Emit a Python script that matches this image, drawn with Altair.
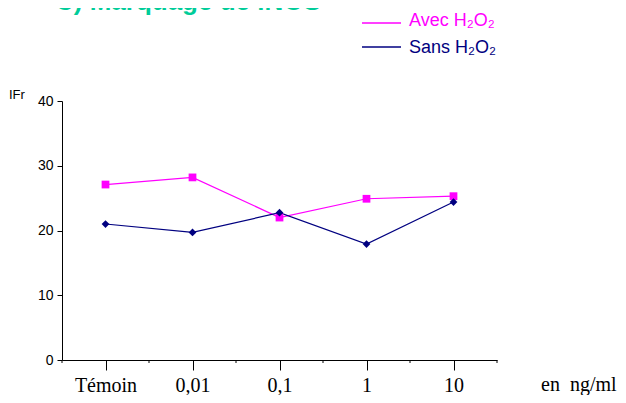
import json
import altair as alt
import pandas as pd

# ---- data ----
categories = ["Témoin", "0,01", "0,1", "1", "10"]
avec_h2o2 = [27.1, 28.2, 22.0, 24.9, 25.3]
sans_h2o2 = [21.0, 19.7, 22.75, 17.9, 24.4]
y_ticks = [0, 10, 20, 30, 40]
series_names = ["Avec H₂O₂", "Sans H₂O₂"]
series_colors = ["#FF00FF", "#000080"]
series_shapes = ["square", "diamond"]
title_text = "C) Marquage de iNOS"
y_title = "IFr"
x_unit = "en\u00a0 ng/ml"

W, H = 435, 259
n = len(categories)
pos = [i + 0.5 for i in range(n)]
minor = list(range(n + 1))

df = pd.DataFrame({
    "pos": pos * 2,
    "cat": categories * 2,
    "value": avec_h2o2 + sans_h2o2,
    "series": [series_names[0]] * n + [series_names[1]] * n,
})

label_expr = json.dumps(categories, ensure_ascii=False) + "[floor(datum.value)]"

x_axis = alt.Axis(
    values=pos, labelExpr=label_expr, tickSize=10, labelPadding=21,
    labelBaseline="alphabetic", labelFont="Liberation Serif", labelFontSize=20,
    labelColor="black", labelAngle=0, grid=False, title=None,
    domainColor="black", tickColor="black", labelFlush=False, labelOverlap=False,
)
y_axis = alt.Axis(
    values=y_ticks, tickSize=5, labelPadding=4, labelFont="Liberation Sans",
    labelFontSize=14, labelColor="black", grid=False, title=None,
    domainColor="black", tickColor="black",
)
x_scale = alt.Scale(domain=[0, n])
y_scale = alt.Scale(domain=[0, 40])

color_enc = alt.Color("series:N", scale=alt.Scale(domain=series_names, range=series_colors), legend=None)
shape_enc = alt.Shape("series:N", scale=alt.Scale(domain=series_names, range=series_shapes), legend=None)

base = alt.Chart(df)
lines = base.mark_line(strokeWidth=1.2).encode(
    x=alt.X("pos:Q", scale=x_scale, axis=x_axis),
    y=alt.Y("value:Q", scale=y_scale, axis=y_axis),
    color=color_enc, detail="series:N",
)
points = base.mark_point(filled=True, size=60, opacity=1).encode(
    x=alt.X("pos:Q", scale=x_scale, axis=x_axis),
    y=alt.Y("value:Q", scale=y_scale, axis=y_axis),
    color=color_enc, shape=shape_enc,
)

minor_ticks = alt.Chart(pd.DataFrame({"pos": minor})).mark_rule(color="black", strokeWidth=1).encode(
    x=alt.X("pos:Q", scale=x_scale, axis=x_axis), y=alt.value(H), y2=alt.value(H + 3)
)

one = pd.DataFrame({"k": [0]})

title = alt.Chart(one).mark_text(
    text=title_text, font="Liberation Sans", fontSize=26, fontWeight="bold",
    color="#00CC99", align="left", baseline="alphabetic",
).encode(x=alt.value(-7), y=alt.value(-91))

ytitle = alt.Chart(one).mark_text(
    text=y_title, font="Liberation Sans", fontSize=13, color="black",
    align="left", baseline="alphabetic",
).encode(x=alt.value(-53), y=alt.value(-2))

xunit = alt.Chart(one).mark_text(
    text=x_unit, font="Liberation Serif", fontSize=20, color="black",
    align="left", baseline="alphabetic",
).encode(x=alt.value(479), y=alt.value(290))

legend_layers = []
leg_line_y = [-78, -54]
leg_text_y = [-75, -48]
for i, name in enumerate(series_names):
    legend_layers.append(
        alt.Chart(one).mark_rule(color=series_colors[i], strokeWidth=1.5).encode(
            x=alt.value(300), x2=alt.value(339), y=alt.value(leg_line_y[i])
        )
    )
    legend_layers.append(
        alt.Chart(one).mark_text(
            text=name, font="Liberation Sans", fontSize=18, color=series_colors[i],
            align="left", baseline="alphabetic",
        ).encode(x=alt.value(347), y=alt.value(leg_text_y[i]))
    )

chart = alt.layer(
    lines, points, minor_ticks, title, ytitle, xunit, *legend_layers
).properties(
    width=W, height=H,
    background="white",
    autosize=alt.AutoSizeParams(type="none"),
    padding={"left": 54, "top": 93, "right": 121, "bottom": 35},
).configure_view(strokeWidth=0, stroke="transparent")

chart.save("out.html", embed_options={"renderer": "svg", "actions": False})
